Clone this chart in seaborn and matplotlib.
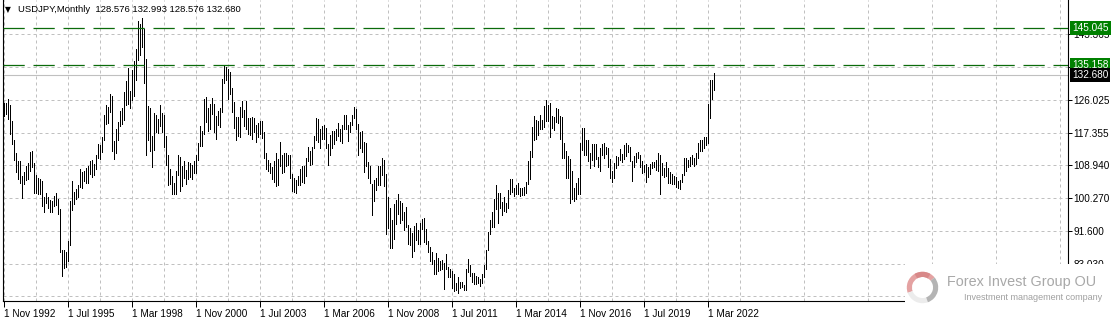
import numpy as np
import pandas as pd
import matplotlib
matplotlib.use("Agg")
import matplotlib.pyplot as plt
import seaborn as sns
from matplotlib.patches import Rectangle, Wedge
from matplotlib.transforms import blended_transform_factory

# ---------------- data (USDJPY monthly, Nov 1992 .. Jun 2022) ----------------
symbol_title = "USDJPY,Monthly"
last_ohlc = ["128.576", "132.993", "128.576", "132.680"]

bar_high = [
    125.2, 125.3,                                                              # 1992 Nov-Dec
    126.2, 124.6, 120.5, 115.6, 112.0, 110.0, 110.0, 106.0, 107.2, 108.6, 109.5, 112.4,  # 1993
    112.5, 109.5, 106.2, 105.5, 105.2, 104.8, 100.5, 101.6, 100.5, 99.8, 99.6, 100.8,    # 1994
    101.5, 100.0, 97.5, 86.6, 86.7, 86.0, 89.0, 99.6, 104.7, 101.8, 102.6, 103.6,        # 1995
    107.8, 107.0, 107.4, 108.2, 108.8, 109.9, 110.2, 109.2, 111.5, 114.5, 114.3, 116.2,  # 1996
    122.0, 124.6, 124.2, 127.5, 127.0, 115.3, 118.4, 120.3, 123.1, 123.9, 128.2, 131.1,  # 1997
    134.5, 128.5, 133.9, 136.3, 139.5, 146.7, 145.9, 147.7, 144.6, 136.9, 124.4, 123.8,  # 1998
    116.6, 122.5, 122.0, 121.0, 124.8, 122.6, 122.0, 116.5, 111.5, 108.0, 106.0, 104.3,  # 1999
    107.3, 111.5, 111.0, 108.8, 110.1, 107.7, 109.8, 109.6, 108.9, 109.9, 111.5, 114.8,  # 2000
    119.3, 118.0, 126.3, 126.8, 124.0, 125.1, 126.5, 125.0, 121.8, 123.2, 124.0, 131.6,  # 2001
    135.2, 134.7, 134.2, 133.5, 129.2, 125.4, 121.5, 121.6, 124.2, 125.7, 123.4, 125.7,  # 2002
    121.3, 121.3, 121.5, 121.3, 119.5, 120.0, 120.5, 120.5, 117.6, 112.0, 110.3, 109.6,  # 2003
    108.3, 110.0, 112.1, 110.6, 114.9, 111.5, 112.0, 112.0, 111.6, 111.7, 106.5, 105.5,  # 2004
    105.0, 106.0, 107.9, 108.8, 108.6, 110.9, 113.8, 112.5, 113.6, 116.5, 121.4, 121.0,  # 2005
    118.5, 119.1, 119.5, 118.6, 114.5, 116.7, 117.9, 117.9, 118.3, 119.9, 118.4, 119.5,  # 2006
    122.2, 122.2, 119.5, 120.3, 122.2, 124.1, 123.7, 119.8, 117.5, 117.9, 115.0, 114.7,  # 2007
    109.8, 108.7, 104.0, 105.0, 105.6, 108.6, 108.6, 110.7, 110.2, 106.5, 100.5, 97.6,   # 2008
    94.6, 98.6, 99.7, 101.4, 99.5, 98.9, 96.5, 97.8, 93.3, 92.3, 91.2, 93.0,             # 2009
    93.8, 91.8, 93.8, 94.8, 94.9, 92.1, 89.0, 87.3, 86.0, 84.0, 85.9, 84.5,              # 2010
    83.7, 84.0, 83.3, 85.5, 82.2, 81.6, 81.0, 80.3, 77.9, 79.6, 78.3, 78.3,              # 2011
    77.3, 81.7, 84.2, 82.6, 80.6, 80.6, 79.8, 79.6, 78.9, 80.4, 82.8, 86.6,              # 2012
    91.3, 94.5, 96.7, 99.9, 103.7, 101.5, 101.5, 99.1, 100.6, 99.0, 102.5, 105.4,        # 2013
    105.4, 103.0, 103.8, 104.1, 102.8, 102.8, 103.1, 104.5, 110.1, 112.5, 118.9, 121.8,  # 2014
    120.8, 120.5, 122.0, 120.8, 124.4, 125.9, 124.6, 125.3, 121.7, 121.5, 123.8, 123.6,  # 2015
    121.7, 121.5, 114.6, 112.7, 111.4, 110.5, 107.5, 102.8, 104.3, 105.5, 114.8, 118.7,  # 2016
    118.6, 115.5, 115.5, 112.2, 114.4, 114.5, 114.5, 111.0, 113.3, 114.4, 114.7, 113.7,  # 2017
    113.4, 110.5, 107.3, 109.6, 111.4, 111.0, 113.2, 111.8, 114.1, 114.6, 114.2, 113.7,  # 2018
    110.0, 111.3, 112.1, 112.4, 111.7, 109.9, 109.0, 109.3, 108.5, 109.3, 109.7, 109.7,  # 2019
    110.3, 112.2, 111.7, 109.4, 108.1, 109.8, 108.2, 107.0, 106.6, 106.1, 105.7, 104.7,  # 2020
    104.9, 106.7, 110.9, 110.9, 110.2, 111.1, 111.7, 110.8, 112.1, 114.7, 115.5, 115.4,  # 2021
    116.3, 116.3, 125.1, 131.3, 131.3, 132.993,                                          # 2022
]

bar_low = [
    121.8, 122.4,                                                              # 1992 Nov-Dec
    121.0, 117.0, 114.5, 110.3, 107.0, 105.4, 104.3, 100.4, 104.0, 104.9, 105.2, 107.5,  # 1993
    108.5, 101.5, 101.5, 101.3, 101.3, 98.3, 96.6, 98.9, 97.6, 96.5, 96.5, 98.3,         # 1994
    98.4, 96.1, 86.2, 79.8, 82.0, 82.1, 83.6, 87.8, 97.0, 98.6, 100.0, 100.6,            # 1995
    103.1, 102.9, 104.8, 104.1, 104.3, 106.6, 105.8, 106.4, 107.8, 110.9, 110.5, 112.4,  # 1996
    115.5, 119.8, 119.9, 123.0, 112.6, 110.6, 112.2, 115.5, 119.2, 119.6, 120.9, 124.8,  # 1997
    125.1, 123.8, 125.9, 127.1, 131.4, 136.6, 137.9, 140.0, 130.5, 111.6, 115.5, 112.6,  # 1998
    108.3, 113.0, 117.5, 117.4, 119.2, 117.6, 113.8, 108.9, 103.7, 104.0, 101.3, 101.3,  # 1999
    101.4, 106.3, 102.2, 103.5, 105.6, 103.9, 105.4, 105.9, 105.2, 106.8, 106.9, 110.2,  # 2000
    114.0, 114.0, 117.0, 120.3, 117.8, 118.5, 122.4, 117.5, 115.8, 119.5, 119.0, 122.8,  # 2001
    130.5, 131.3, 126.3, 127.7, 123.0, 118.6, 115.5, 116.5, 116.3, 121.5, 119.3, 118.4,  # 2002
    117.1, 116.8, 115.8, 117.5, 115.0, 116.2, 117.2, 116.0, 110.9, 107.9, 107.5, 106.8,  # 2003
    105.2, 104.5, 103.4, 103.7, 108.6, 106.8, 107.0, 108.8, 109.0, 105.6, 102.1, 101.8,  # 2004
    101.7, 103.6, 103.8, 104.6, 104.2, 106.1, 110.0, 108.9, 109.2, 113.3, 115.5, 115.0,  # 2005
    113.4, 115.8, 115.8, 113.4, 108.9, 111.5, 113.5, 114.5, 115.4, 116.6, 115.3, 114.6,  # 2006
    118.5, 118.3, 115.2, 117.6, 119.4, 121.3, 118.3, 111.6, 113.5, 112.3, 107.2, 108.6,  # 2007
    105.5, 104.1, 95.8, 99.5, 102.5, 103.6, 103.8, 106.4, 103.5, 90.9, 92.5, 87.2,       # 2008
    87.1, 89.6, 93.5, 96.0, 93.8, 94.5, 91.8, 92.6, 88.2, 88.0, 84.8, 86.3,              # 2009
    89.2, 88.1, 88.2, 92.2, 88.6, 88.1, 86.2, 83.6, 82.9, 80.2, 80.2, 81.1,              # 2010
    81.3, 81.5, 76.3, 81.5, 79.6, 79.6, 76.6, 75.9, 76.1, 75.4, 76.6, 76.9,              # 2011
    76.0, 76.1, 80.8, 79.8, 78.1, 77.6, 77.7, 78.0, 77.1, 77.9, 79.4, 81.7,              # 2012
    86.5, 90.8, 92.6, 92.6, 97.4, 93.8, 97.6, 95.8, 96.9, 96.6, 97.6, 101.4,             # 2013
    101.8, 100.8, 101.2, 101.4, 100.8, 101.1, 101.0, 101.5, 104.0, 105.2, 111.0, 115.6,  # 2014
    115.9, 116.9, 118.3, 118.5, 118.9, 120.4, 120.4, 116.2, 118.6, 118.1, 120.2, 119.9,  # 2015
    115.9, 110.9, 110.7, 105.6, 105.6, 99.0, 99.9, 99.5, 100.1, 101.2, 101.2, 112.9,     # 2016
    111.6, 111.6, 110.1, 108.1, 110.2, 108.8, 110.6, 108.3, 107.3, 111.6, 110.8, 111.9,  # 2017
    108.3, 105.5, 104.6, 105.6, 108.1, 108.9, 110.3, 109.8, 110.4, 111.4, 112.3, 110.0,  # 2018
    104.7, 108.5, 109.7, 110.8, 108.3, 106.8, 107.2, 104.5, 105.7, 106.5, 108.2, 108.4,  # 2019
    107.7, 107.5, 101.2, 106.4, 105.9, 106.1, 104.2, 104.2, 104.0, 104.0, 103.2, 102.9,  # 2020
    102.6, 104.4, 106.4, 107.5, 108.3, 108.6, 109.1, 108.7, 109.1, 110.8, 112.5, 112.5,  # 2021
    113.5, 114.2, 114.6, 121.3, 126.4, 128.576,                                          # 2022
]

x_tick_labels = ["1 Nov 1992", "1 Jul 1995", "1 Mar 1998", "1 Nov 2000",
                 "1 Jul 2003", "1 Mar 2006", "1 Nov 2008", "1 Jul 2011",
                 "1 Mar 2014", "1 Nov 2016", "1 Jul 2019", "1 Mar 2022"]
price_ticks = [143.365, 134.695, 126.025, 117.355, 108.940, 100.270, 91.600, 83.030, 74.460]
price_tick_labels = ["143.365", "", "126.025", "117.355", "108.940",
                     "100.270", "91.600", "83.030", ""]
level_lines = [145.045, 135.158]
bid_price = 132.680

# ---------------- figure ----------------
sns.set_style("white")
plt.rcParams["font.family"] = ["Liberation Sans", "DejaVu Sans"]

W, H = 1114, 322
fig = plt.figure(figsize=(W / 100, H / 100), dpi=100)
fig.patch.set_facecolor("white")
ax = fig.add_axes([3 / W, 21 / H, 1065 / W, 301 / H])

n = len(bar_high)
idx = np.arange(n)
df = pd.DataFrame({
    "bar": np.repeat(idx, 2),
    "price": np.column_stack([bar_low, bar_high]).ravel(),
})

# grid
ax.set_axisbelow(True)
ax.grid(True, which="both", color="#c0c0c0", linestyle=(0, (3, 3)), linewidth=0.72)

sns.lineplot(data=df, x="bar", y="price", units="bar", estimator=None,
             sort=False, color="black", linewidth=0.7, antialiased=False,
             legend=False, ax=ax, zorder=3)

# horizontal levels
for lv in level_lines:
    ax.axhline(lv, color="#0b6b0b", linewidth=0.9, linestyle=(0, (17, 7)), zorder=4)
ax.axhline(bid_price, color="#c0c0c0", linewidth=0.8, zorder=2)

# scales
pix2price = lambda y: 143.365 - (y - 34) * 0.26273
ax.set_ylim(pix2price(301), pix2price(0))
ax.set_xlim(-0.25, 532.25)

ax.set_xlabel("")
ax.set_ylabel("")

# x ticks
ax.set_xticks(np.arange(0, 32 * len(x_tick_labels), 32))
ax.set_xticklabels(x_tick_labels)
ax.set_xticks(np.arange(16, 533, 32), minor=True)
for t in ax.get_xticklabels():
    t.set_horizontalalignment("left")
ax.tick_params(axis="x", which="major", length=4, width=0.72, direction="out",
               pad=2, labelsize=7.2, colors="black", bottom=True)
ax.tick_params(axis="x", which="minor", length=0)

# y ticks on right
ax.yaxis.tick_right()
ax.set_yticks(price_ticks)
ax.set_yticklabels(price_tick_labels)
ax.tick_params(axis="y", which="major", length=3, width=0.72, direction="out",
               pad=0.8, labelsize=7.2, colors="black", right=True, left=False)

for side in ["left", "bottom", "right"]:
    ax.spines[side].set_visible(True)
    ax.spines[side].set_color("black")
    ax.spines[side].set_linewidth(0.8)
ax.spines["top"].set_visible(False)

# price boxes on the right axis
trans = blended_transform_factory(ax.transAxes, ax.transData)
xbox = (1072 - 3) / 1065
for lv in level_lines:
    ax.text(xbox, lv, f"{lv:.3f}", transform=trans, ha="left", va="center",
            fontsize=7.2, color="white", clip_on=False, zorder=10,
            bbox=dict(boxstyle="square,pad=0.2", fc="#008000", ec="none"))
ax.text(xbox, bid_price, f"{bid_price:.3f}", transform=trans, ha="left", va="center",
        fontsize=7.2, color="white", clip_on=False, zorder=10,
        bbox=dict(boxstyle="square,pad=0.2", fc="black", ec="none"))

# header
fig.text(5 / W, 1 - 10 / H, "▼", fontsize=5.5, va="center", ha="left",
         family=["DejaVu Sans"], color="black")
fig.text(18 / W, 1 - 10 / H,
         symbol_title + "  " + " ".join(last_ohlc),
         fontsize=6.8, va="center", ha="left", color="black")

# watermark logo (white backing)
fig.add_artist(Rectangle((905 / W, 0), 209 / W, 58 / H, transform=fig.transFigure,
                         facecolor="white", edgecolor="none", zorder=5))
lax = fig.add_axes([906 / W, (322 - 304) / H, 33 / W, 33 / H], zorder=6)
lax.set_xlim(-1.05, 1.05)
lax.set_ylim(-1.05, 1.05)
lax.set_aspect("equal")
lax.axis("off")
lax.add_patch(Wedge((0, 0), 1.0, 40, 200, width=0.33, facecolor="#e4a2a2", edgecolor="none"))
lax.add_patch(Wedge((0, 0), 1.0, 60, 120, width=0.33, facecolor="#d88888", edgecolor="none"))
lax.add_patch(Wedge((0, 0), 1.0, 200, 290, width=0.33, facecolor="#ececec", edgecolor="none"))
lax.add_patch(Wedge((0, 0), 1.0, 290, 400, width=0.33, facecolor="#b4b4b4", edgecolor="none"))

fig.text(947 / W, 1 - 282 / H, "Forex Invest Group OU", fontsize=10.4,
         color="#a8a8a8", va="center", ha="left", zorder=7)
fig.text(964 / W, 1 - 297 / H, "Investment management company", fontsize=6.5,
         color="#a0a0a0", va="center", ha="left", zorder=7)

fig.savefig("out.png", dpi=100, facecolor="white")
